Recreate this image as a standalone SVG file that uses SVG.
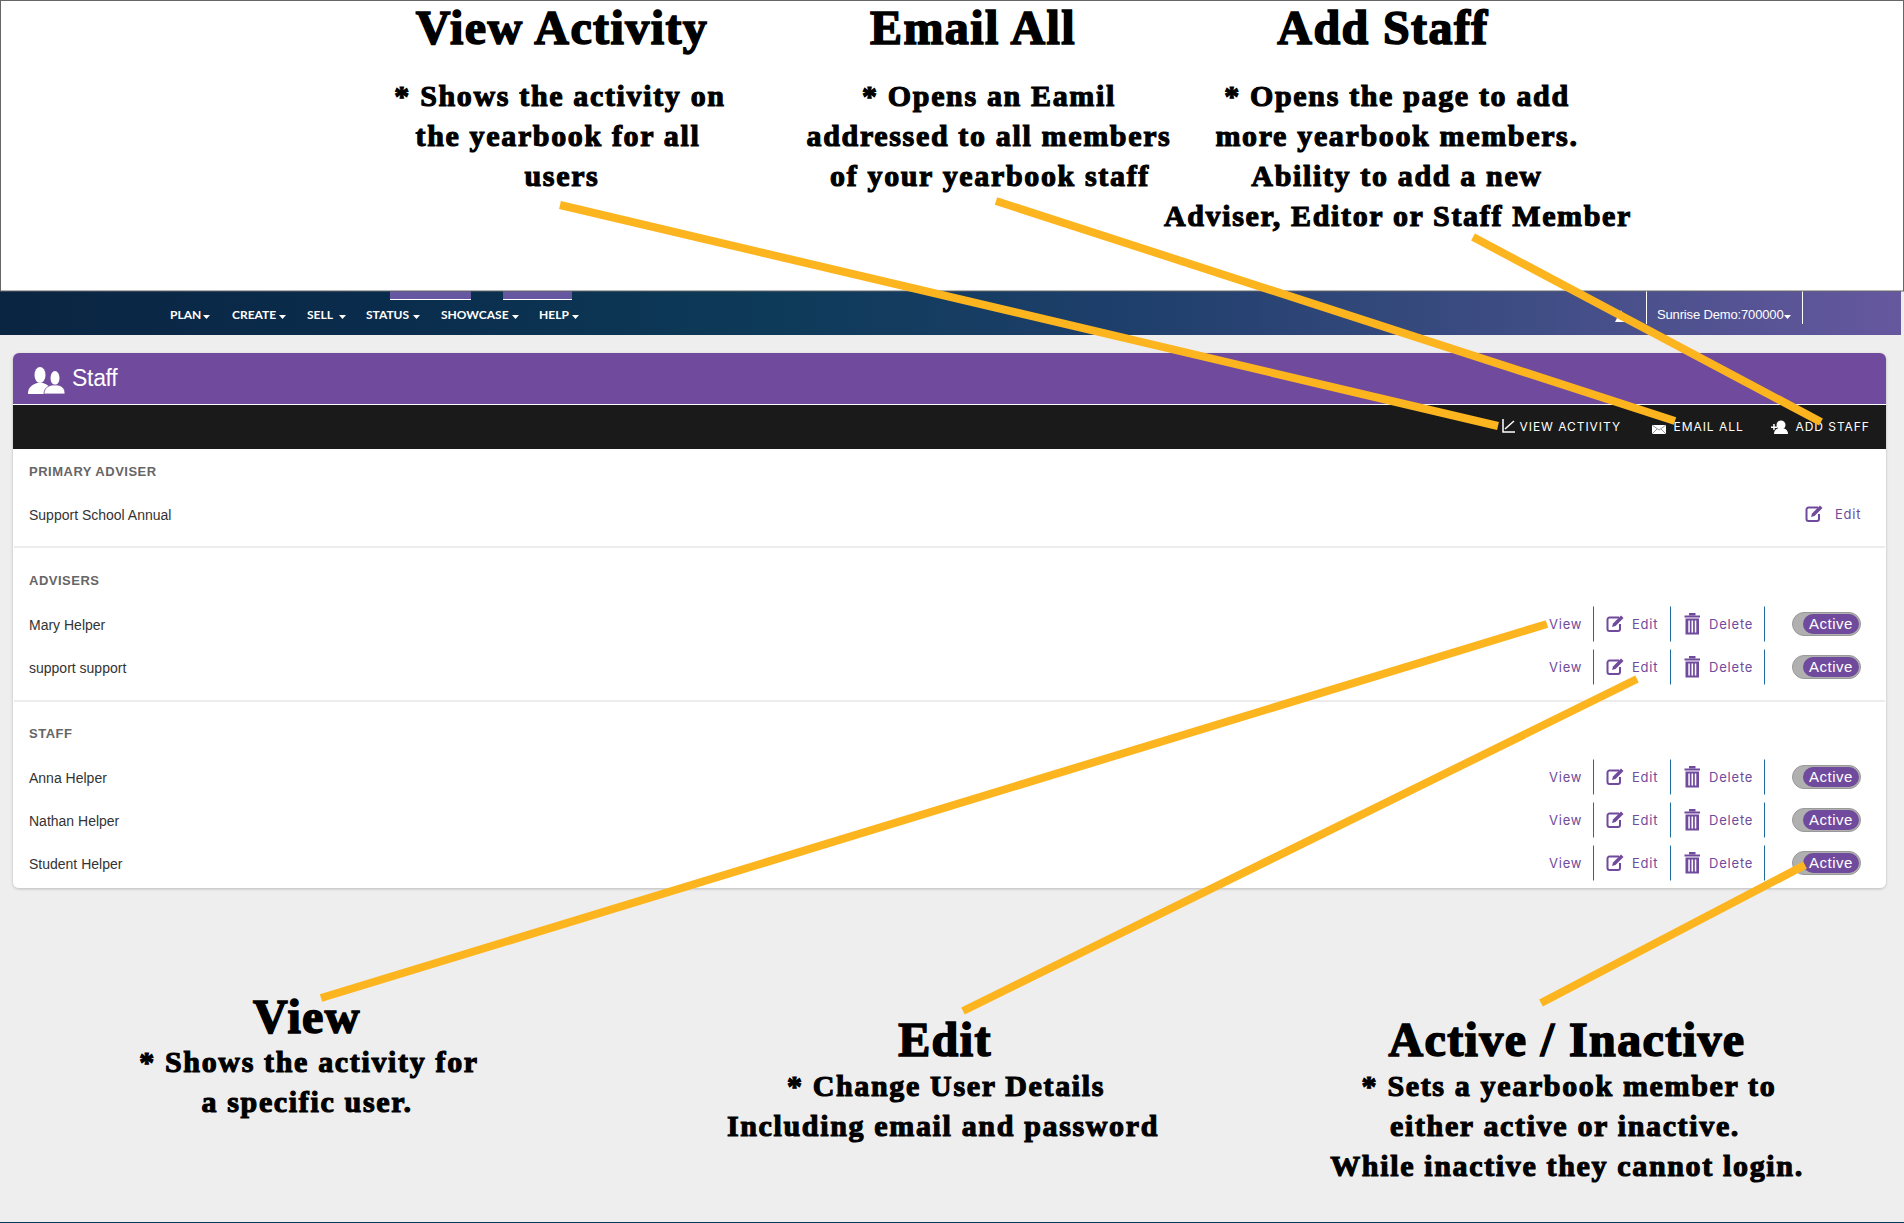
<svg xmlns="http://www.w3.org/2000/svg" width="1904" height="1223" viewBox="0 0 1904 1223">
<defs>
<linearGradient id="nav" x1="0" x2="1" y1="0" y2="0"><stop offset="0" stop-color="#0a2542"/><stop offset="0.2" stop-color="#0a2c4c"/><stop offset="0.4" stop-color="#0d3a58"/><stop offset="0.6" stop-color="#1f3f6c"/><stop offset="0.8" stop-color="#3e4d84"/><stop offset="1" stop-color="#66589f"/></linearGradient>
<filter id="sh" x="-1%" y="-2%" width="102%" height="104%"><feDropShadow dx="0" dy="1" stdDeviation="1.500" flood-color="#000" flood-opacity=".22"/></filter>
<g id="edit-i"><path d="M13 2.500H3.500a2 2 0 0 0-2 2V14a2 2 0 0 0 2 2H12a2 2 0 0 0 2-2V9" fill="none" stroke="#704a9c" stroke-width="2"/><path d="M6 12l1-3.500L15 0.500l2.500 2.500L9.500 11z" fill="#704a9c"/></g>
<g id="trash-i" fill="#704a9c"><rect x="4.500" y="-1" width="6.500" height="2.500"/><rect x="0" y="1.500" width="15.500" height="2"/><path d="M1 4.500h13.500V20.500H1zM3.800 6.500v12h1.500v-12zM7 6.500v12h1.600v-12zM10.300 6.500v12h1.500v-12z" fill-rule="evenodd"/></g>
<g id="row-i">
<text class="lnk" x="1549" y="5">View</text>
<path class="sep" d="M1593.500-17.500v35M1670.500-17.500v35M1764.500-17.500v35"/>
<use href="#edit-i" x="1606" y="-9"/>
<text class="lnk" x="1632" y="5">Edit</text>
<use href="#trash-i" x="1684.500" y="-10"/>
<text class="lnk" x="1709" y="5">Delete</text>
<rect x="1792.500" y="-11.500" width="68" height="23" rx="11.500" fill="#b0b0b0" stroke="#999"/>
<rect x="1803" y="-10" width="56" height="20" rx="10" fill="#704a9c"/>
<text x="1809" y="5" class="act">Active</text>
</g>
</defs>
<style>
text{font-family:"Liberation Sans",Arial,sans-serif}
.h{font-family:"Liberation Serif","Times New Roman",serif;font-weight:bold;font-size:48px;text-anchor:middle;stroke:#000;stroke-width:1.600px;fill:#000;letter-spacing:1.400px}
.b{font-family:"Liberation Serif","Times New Roman",serif;font-weight:bold;font-size:30px;text-anchor:middle;stroke:#000;stroke-width:1.100px;fill:#000;letter-spacing:1.650px}
.nv{font-family:Lato,sans-serif;font-weight:bold;font-size:12px;fill:#fff;letter-spacing:0}
.car{fill:#fff}
.tb{font-family:Inter,"Liberation Sans",sans-serif;font-size:12px;fill:#fff;letter-spacing:.95px}
.sec{font-weight:bold;font-size:13px;fill:#666;letter-spacing:.5px}
.nm{font-size:14px;fill:#333}
.lnk{font-family:Inter,"Liberation Sans",sans-serif;font-size:13px;fill:#704a9c;letter-spacing:.8px}
.act{font-size:15px;fill:#fff;letter-spacing:.5px}
.sep{stroke:#1f6b9f;stroke-width:1;fill:none}
.ln{stroke:#fdb51f;stroke-width:8;fill:none}
.dv{stroke:#ececec;stroke-width:2}
</style>
<rect width="1904" height="1223" fill="#eeeeee"/>
<g id="nav-bar">
<rect x="0" y="291" width="1901" height="44" fill="url(#nav)"/>
<rect x="390" y="291" width="81" height="8" fill="#6557a0"/><rect x="390" y="299" width="81" height="1" fill="#fff"/>
<rect x="503" y="291" width="69" height="8" fill="#6557a0"/><rect x="503" y="299" width="69" height="1" fill="#fff"/>
<text class="nv" x="170" y="319">PLAN</text><path class="car" d="M203 315h7l-3.500 4z"/>
<text class="nv" x="232" y="319">CREATE</text><path class="car" d="M279 315h7l-3.500 4z"/>
<text class="nv" x="307" y="319">SELL</text><path class="car" d="M339 315h7l-3.500 4z"/>
<text class="nv" x="366" y="319">STATUS</text><path class="car" d="M413 315h7l-3.500 4z"/>
<text class="nv" x="441" y="319">SHOWCASE</text><path class="car" d="M512 315h7l-3.500 4z"/>
<text class="nv" x="539" y="319">HELP</text><path class="car" d="M572 315h7l-3.500 4z"/>
<path d="M1646.500 291v33M1802.500 291v33" stroke="#fff" stroke-width="1"/>
<path d="M1615 322l6-12 6 12z" fill="#fff"/>
<text x="1657" y="319" font-family="Lato,sans-serif" font-size="13" fill="#fff" letter-spacing="-.15">Sunrise Demo:700000</text><path class="car" d="M1784 315h7l-3.500 4z"/>
</g>
<g id="panel">
<rect x="13" y="353" width="1873" height="535" rx="6" fill="#fff" filter="url(#sh)"/>
<path d="M13 404V359a6 6 0 0 1 6-6H1880a6 6 0 0 1 6 6V404z" fill="#704a9c"/>
<rect x="13" y="405" width="1873" height="44" fill="#1a1a1a"/>
<g fill="#fff"><ellipse cx="40" cy="375" rx="5.500" ry="8"/><path d="M28 394c0-7 4-9 9-11h6c5 2 9 4 9 11z"/><ellipse cx="55" cy="378" rx="4.500" ry="7"/><path d="M44 394c0-6 4-8 8-9h6c4 1 7 3 7 9z" stroke="#704a9c" stroke-width=".8"/></g>
<text x="72" y="386" font-size="23" fill="#fff" letter-spacing="-.3">Staff</text>
<path d="M1503 419v13h12M1505 429l9-8" stroke="#fff" stroke-width="1.500" fill="none"/>
<text class="tb" x="1519.500" y="431">VIEW ACTIVITY</text>
<path d="M1652 425h14v9h-14z" fill="#fff"/><path d="M1652 425l7 5 7-5M1652 434l5-5M1666 434l-5-5" stroke="#999" fill="none"/>
<text class="tb" x="1673.500" y="431">EMAIL ALL</text>
<g fill="#fff"><path d="M1771 426.500h6v1.500h-6zM1773.200 424h1.500v6h-1.500z"/><circle cx="1781" cy="425" r="4.500"/><path d="M1774 434c0-4 3-6 7-6s7 2 7 6z"/></g>
<text class="tb" x="1795.500" y="431">ADD STAFF</text>
<use href="#edit-i" x="1805" y="505"/><text class="lnk" x="1835" y="519">Edit</text>
<text class="sec" x="29" y="476">PRIMARY ADVISER</text>
<text class="nm" x="29" y="520">Support School Annual</text>
<path class="dv" d="M14 547H1885M14 701H1885"/>
<text class="sec" x="29" y="585">ADVISERS</text>
<text class="sec" x="29" y="738">STAFF</text>
</g>
<g id="row-mary"><text class="nm" x="29" y="630">Mary Helper</text><use href="#row-i" y="624"/></g>
<g id="row-support"><text class="nm" x="29" y="673">support support</text><use href="#row-i" y="667"/></g>
<g id="row-anna"><text class="nm" x="29" y="783">Anna Helper</text><use href="#row-i" y="777"/></g>
<g id="row-nathan"><text class="nm" x="29" y="826">Nathan Helper</text><use href="#row-i" y="820"/></g>
<g id="row-student"><text class="nm" x="29" y="869">Student Helper</text><use href="#row-i" y="863"/></g>
<g id="top-note"><rect x="0.500" y="0.500" width="1903" height="290.500" fill="#fff" stroke="#666" stroke-width="1"/></g>
<g id="connectors">
<path class="ln" d="M560 205L1498 426"/>
<path class="ln" d="M996 201L1675 421"/>
<path class="ln" d="M1473 237L1821 422"/>
<path class="ln" d="M321 998L1547 624"/>
<path class="ln" d="M963 1011L1637 679"/>
<path class="ln" d="M1541 1003L1805 865"/>
</g>
<g id="note-view-activity"><text class="h" x="562" y="44">View Activity</text><text class="b" x="560" y="106">* Shows the activity on</text><text class="b" x="558" y="146">the yearbook for all</text><text class="b" x="562" y="186">users</text></g>
<g id="note-email-all"><text class="h" x="973" y="44">Email All</text><text class="b" x="989" y="106">* Opens an Eamil</text><text class="b" x="989" y="146">addressed to all members</text><text class="b" x="990" y="186">of your yearbook staff</text></g>
<g id="note-add-staff"><text class="h" x="1383" y="44">Add Staff</text><text class="b" x="1397" y="106">* Opens the page to add</text><text class="b" x="1397" y="146">more yearbook members.</text><text class="b" x="1397" y="186">Ability to add a new</text><text class="b" x="1398" y="226">Adviser, Editor or Staff Member</text></g>
<g id="note-view"><text class="h" x="307" y="1033">View</text><text class="b" x="309" y="1072">* Shows the activity for</text><text class="b" x="307" y="1112">a specific user.</text></g>
<g id="note-edit"><text class="h" x="945" y="1056">Edit</text><text class="b" x="946" y="1096">* Change User Details</text><text class="b" x="943" y="1136">Including email and password</text></g>
<g id="note-active"><text class="h" x="1567" y="1056">Active / Inactive</text><text class="b" x="1569" y="1096">* Sets a yearbook member to</text><text class="b" x="1565" y="1136">either active or inactive.</text><text class="b" x="1567" y="1176">While inactive they cannot login.</text></g>
<rect id="page-edge" x="0" y="1222" width="1904" height="1" fill="#0b3557"/>
</svg>
